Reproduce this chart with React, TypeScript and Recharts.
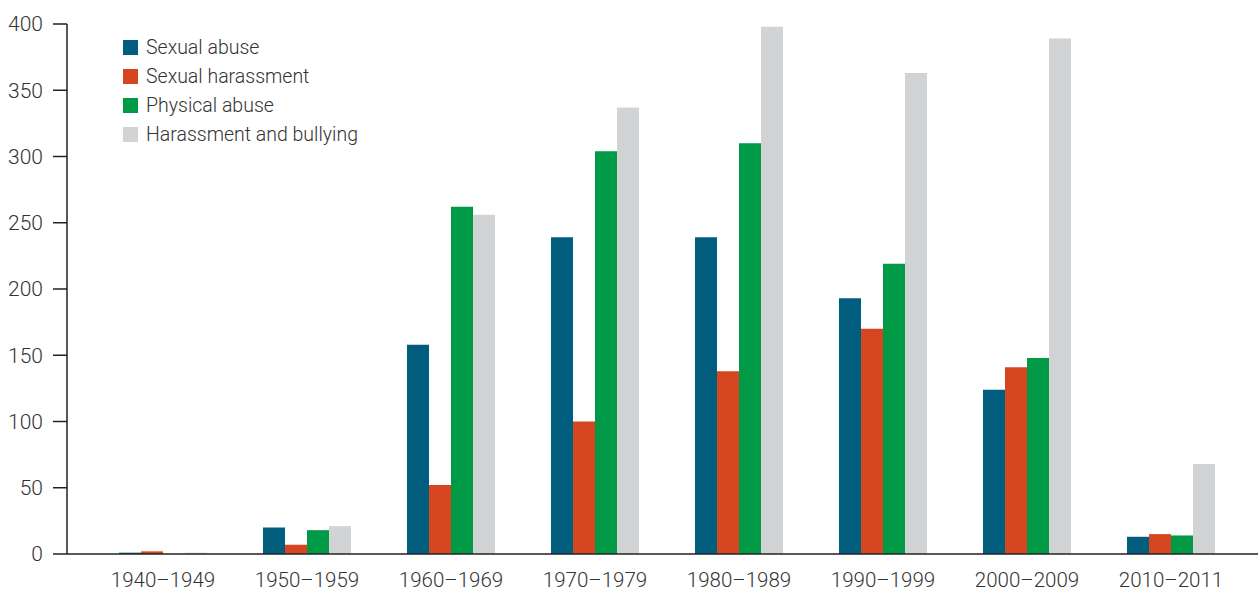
import React from "react";
import { BarChart, Bar, XAxis, YAxis } from "recharts";

const categories = ["1940–1949", "1950–1959", "1960–1969", "1970–1979", "1980–1989", "1990–1999", "2000–2009", "2010–2011"];
const sexualAbuse = [1, 20, 158, 239, 239, 193, 124, 13];
const sexualHarassment = [2, 7, 52, 100, 138, 170, 141, 15];
const physicalAbuse = [0, 18, 262, 304, 310, 219, 148, 14];
const harassmentBullying = [1, 21, 256, 337, 398, 363, 389, 68];
const yTicks = [0, 50, 100, 150, 200, 250, 300, 350, 400];

const series = [
  { key: "sa", name: "Sexual abuse", color: "#015d7e", values: sexualAbuse },
  { key: "sh", name: "Sexual harassment", color: "#d44520", values: sexualHarassment },
  { key: "pa", name: "Physical abuse", color: "#009a46", values: physicalAbuse },
  { key: "hb", name: "Harassment and bullying", color: "#d1d3d4", values: harassmentBullying },
];

const data = categories.map((c, i) => {
  const row: any = { cat: c };
  series.forEach((s) => (row[s.key] = s.values[i]));
  return row;
});

const FONT = "Roboto, 'DejaVu Sans', sans-serif";

const LegendBox = () => (
  <div style={{ position: "absolute", left: 123, top: 33, fontFamily: FONT, fontWeight: 300 }}>
    {series.map((s) => (
      <div key={s.key} style={{ display: "flex", alignItems: "center", height: 29 }}>
        <div style={{ width: 15, height: 15, background: s.color, marginRight: 8 }} />
        <span style={{ fontSize: 19.5, color: "#333" }}>{s.name}</span>
      </div>
    ))}
  </div>
);

export default function App() {
  return (
    <div style={{ position: "absolute", left: 0, top: 0, width: 1258, height: 592, background: "#fff" }}>
      <BarChart
        width={1258}
        height={592}
        data={data}
        margin={{ top: 24, right: 0, bottom: 0, left: 0 }}
        barCategoryGap={28}
        barGap={0}
      >
        <XAxis
          dataKey="cat"
          height={38}
          padding={{ left: 24, right: 15 }}
          tickLine={false}
          axisLine={{ stroke: "#222", strokeWidth: 1.5 }}
          tick={{ fill: "#333", fontSize: 20.5, fontFamily: FONT, fontWeight: 300 }}
          tickMargin={12}
          interval={0}
        />
        <YAxis
          width={67}
          domain={[0, 400]}
          ticks={yTicks}
          tickSize={14}
          tickMargin={10}
          axisLine={{ stroke: "#222", strokeWidth: 1.5 }}
          tickLine={{ stroke: "#222", strokeWidth: 1.5 }}
          tick={{ fill: "#333", fontSize: 21, fontFamily: FONT, fontWeight: 300 }}
          interval={0}
        />
        {series.map((s) => (
          <Bar key={s.key} dataKey={s.key} name={s.name} fill={s.color} barSize={22} isAnimationActive={false} />
        ))}
      </BarChart>
      <LegendBox />
    </div>
  );
}
